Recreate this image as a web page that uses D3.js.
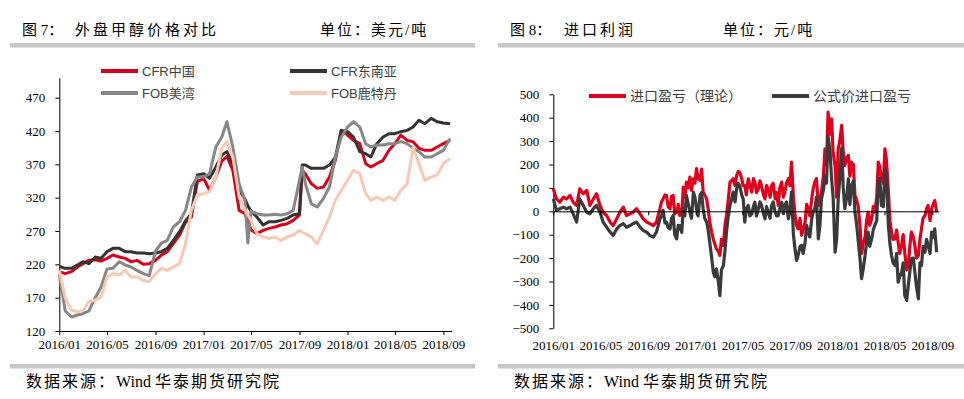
<!DOCTYPE html>
<html>
<head>
<meta charset="utf-8">
<script src="https://cdn.jsdelivr.net/npm/d3@7"></script>
<style>
  body { margin: 0; background: #fff; }
  svg text { font-family: "Liberation Serif", "Noto Sans CJK SC", serif; fill: #000; }
  .legend text { font-family: "Liberation Sans", "Noto Sans CJK SC", sans-serif; fill: #404040; }
  .axis path, .axis line { stroke: #000; }
</style>
</head>
<body>
<svg id="chart" width="964" height="399"></svg>
<script>
const parseDate = d3.timeParse("%Y-%m-%d");

// 图7 外盘甲醇价格 (美元/吨), semi-monthly readings
const priceDates = [
  "2016-01-01","2016-01-16","2016-02-01","2016-02-16","2016-03-01","2016-03-16","2016-04-01","2016-04-16",
  "2016-05-01","2016-05-16","2016-06-01","2016-06-16","2016-07-01","2016-07-16","2016-08-01","2016-08-16",
  "2016-09-01","2016-09-16","2016-10-01","2016-10-16","2016-11-01","2016-11-16","2016-12-01","2016-12-16",
  "2017-01-01","2017-01-16","2017-02-01","2017-02-16","2017-03-01","2017-03-16","2017-04-01","2017-04-16",
  "2017-04-23","2017-05-01","2017-05-16","2017-06-01","2017-06-16","2017-07-01","2017-07-16","2017-08-01",
  "2017-08-16","2017-09-01","2017-09-08","2017-09-16","2017-10-01","2017-10-16","2017-11-01","2017-11-16",
  "2017-12-01","2017-12-16","2018-01-01","2018-01-16","2018-02-01","2018-02-16","2018-03-01","2018-03-16",
  "2018-04-01","2018-04-16","2018-05-01","2018-05-16","2018-06-01","2018-06-16","2018-07-01","2018-07-16",
  "2018-08-01","2018-08-16","2018-09-01","2018-09-18"
];
const cfrChina = [
  209,206,209,216,221,226,227,225, 229,234,231,229,224,226,220,221,
  226,234,239,251,264,283,291,344, 349,331,351,375,382,361,301,296,
  285,272,266,271,274,276,279,281, 286,294,361,356,341,334,336,351,
  376,421,414,406,401,371,366,371, 376,391,401,414,406,404,394,391,
  391,396,401,406
];
const cfrSEA = [
  217,214,214,219,224,221,231,229, 239,244,244,239,239,237,237,236,
  237,239,244,256,269,285,296,354, 356,349,366,384,389,371,331,318,
  308,300,291,279,284,284,286,289, 294,296,369,369,364,364,364,369,
  381,421,419,411,389,386,381,401, 411,416,416,419,421,426,436,431,
  439,434,432,431
];
const fobUSG = [
  205,150,141,144,146,150,170,186, 213,214,224,219,216,211,206,203,
  240,252,256,276,284,301,336,351, 351,356,396,411,434,396,341,315,
  252,300,296,294,294,295,294,296, 301,346,366,341,311,306,319,336,
  381,411,426,434,426,401,396,399, 399,401,401,404,401,394,389,381,
  381,386,391,409
];
const fobRotterdam = [
  211,170,151,149,151,164,166,171, 201,206,204,211,201,201,196,194,
  206,214,211,216,221,251,301,324, 326,329,351,394,404,381,321,301,
  294,286,266,261,259,261,256,261, 264,271,268,266,261,251,271,291,
  316,331,346,361,356,326,316,321, 316,321,316,331,341,395,371,346,
  351,354,371,379
];
const priceTicks = [120, 170, 220, 270, 320, 370, 420, 470];

// 图8 进口利润 (元/吨), main readings
const profitDates = [
  "2016-01-01","2016-01-09","2016-01-18","2016-01-27","2016-02-04","2016-02-13","2016-02-21","2016-03-01",
  "2016-03-09","2016-03-18","2016-03-27","2016-04-04","2016-04-13","2016-04-21","2016-04-30","2016-05-08",
  "2016-05-17","2016-05-26","2016-06-03","2016-06-12","2016-06-20","2016-06-29","2016-07-07","2016-07-16",
  "2016-07-24","2016-08-02","2016-08-11","2016-08-19","2016-08-28","2016-09-05","2016-09-14","2016-09-22",
  "2016-10-01","2016-10-09","2016-10-18","2016-10-27","2016-11-04","2016-11-13","2016-11-21","2016-11-30",
  "2016-12-08","2016-12-17","2016-12-26","2017-01-03","2017-01-12","2017-01-20","2017-01-29","2017-02-06",
  "2017-02-15","2017-02-23","2017-03-04","2017-03-13","2017-03-21","2017-03-30","2017-04-07","2017-04-16",
  "2017-04-24","2017-05-03",
  "2017-05-07","2017-05-16","2017-05-25","2017-06-02","2017-06-11","2017-06-19","2017-06-28","2017-07-06",
  "2017-07-15","2017-07-24","2017-08-01","2017-08-10","2017-08-18","2017-08-27","2017-09-04","2017-09-13",
  "2017-09-21","2017-09-30","2017-10-09","2017-10-17","2017-10-26","2017-11-03","2017-11-12","2017-11-20",
  "2017-11-29","2017-12-07","2017-12-16","2017-12-25","2018-01-02","2018-01-11","2018-01-19","2018-01-28",
  "2018-02-05","2018-02-14","2018-02-22","2018-03-03","2018-03-12","2018-03-20","2018-03-29","2018-04-06",
  "2018-04-15","2018-04-23","2018-05-02","2018-05-11","2018-05-19","2018-05-28","2018-06-05","2018-06-14",
  "2018-06-22","2018-07-01","2018-07-09","2018-07-18","2018-07-27","2018-08-04","2018-08-13","2018-08-21",
  "2018-08-30","2018-09-07","2018-09-12"
];
const profitTheory = [
  96,53,39,60,53,68,39,25, 96,75,89,25,53,75,25,-4,
  -18,-46,-61,-32,-4,18,-18,-11, -4,11,-11,-32,-46,-53,-61,-46,
  11,53,68,11,68,-4,-18,103, 125,146,139,182,132,82,53,-46,
  -118,-160,-189,-146,-18,125,139,153, 167,110,
  110,139,82,125,96,110,53,96, 110,53,25,125,82,139,210,-18,
  -75,-103,-46,11,53,125,25,82, 267,424,395,196,267,367,196,239,
  210,68,25,-180,-110,-4,-32,-4, 210,139,267,82,-89,-118,-132,-146,
  -175,-232,-89,-146,-189,-75,-18,25, 11,46,-4
];
const profitFormula = [
  53,4,11,18,11,18,-11,-46, 53,25,-4,-11,11,25,-4,-46,
  -68,-89,-103,-75,-61,-53,-68,-61, -53,-46,-68,-82,-89,-103,-110,-89,
  -32,4,-46,-75,-18,-118,-61,11, 68,-4,82,11,68,11,-46,-132,
  -260,-246,-360,-232,-89,25,82,96, 110,53,
  -46,25,-11,39,11,25,-32,-4, 25,-4,-18,39,25,-32,82,-160,
  -189,-146,-132,-89,-32,11,-118,53, 153,320,139,-175,53,270,11,139,
  110,-4,-118,-288,-189,-89,-118,-61, 125,25,180,-61,-189,-232,-303,-260,
  -360,-317,-203,-260,-374,-232,-175,-146, -89,-75,-175
];

// 图8 extra readings between the main ones (the noisy stretch from 2016/10 on)
const profitExtraDates = [
  "2016-10-05","2016-10-14","2016-10-22","2016-10-31","2016-11-08","2016-11-17","2016-11-26","2016-12-04",
  "2016-12-13","2016-12-21","2016-12-30","2017-01-07","2017-01-16","2017-01-24","2017-02-02","2017-02-11",
  "2017-02-19","2017-02-28","2017-03-08","2017-03-17","2017-03-25","2017-04-03","2017-04-12","2017-04-20",
  "2017-04-29",
  "2017-05-11","2017-05-20","2017-05-29","2017-06-06","2017-06-15","2017-06-24","2017-07-02","2017-07-11",
  "2017-07-19","2017-07-28","2017-08-05","2017-08-14","2017-08-22","2017-08-31","2017-09-09","2017-09-17",
  "2017-09-26","2017-10-04","2017-10-13","2017-10-21","2017-10-30","2017-11-07","2017-11-16","2017-11-25",
  "2017-12-03","2017-12-12","2017-12-20","2017-12-29","2018-01-06","2018-01-15","2018-01-24","2018-02-01",
  "2018-02-10","2018-02-18","2018-02-27","2018-03-07","2018-03-16","2018-03-24","2018-04-02","2018-04-11",
  "2018-04-19","2018-04-28","2018-05-06","2018-05-15","2018-05-23","2018-06-01","2018-06-09","2018-06-18",
  "2018-06-27","2018-07-05","2018-07-14","2018-07-22","2018-07-31","2018-08-08","2018-08-17","2018-08-26",
  "2018-09-03"
];
const profitExtraTheory = [
  40,70,20,65,-10,30,-15,60, 100,90,120,140,180,70,10,-90,
  -140,-170,-120,-60,40,130,110,170, 140,
  70,110,140,80,130,70,110,60, 120,80,100,60,120,110,60,-60,
  -30,-80,30,-20,100,140,50,150, 200,330,250,60,300,250,230,150,
  200,50,-60,-140,-40,-60,20,60, 190,120,220,-40,-120,-80,-180,-100,
  -250,-150,-110,-200,-120,-30,10,-40, 30
];
const profitExtraFormula = [
  -20,-50,-70,-30,-100,-60,-90,-20, 30,-30,60,-20,80,-30,-80,-200,
  -280,-300,-250,-170,-30,50,40,120, 70,
  10,-20,20,-20,40,-10,20,-30, 40,-20,10,-10,40,10,-100,-210,
  -150,-180,-60,-110,0,60,-60,90, 120,260,60,-120,140,100,60,30,
  130,-50,-200,-250,-130,-150,-80,-40, 140,20,150,-140,-220,-180,-280,-220,
  -380,-260,-200,-320,-220,-150,-120,-180, -110
];
const profitTicks = [-500, -400, -300, -200, -100, 0, 100, 200, 300, 400, 500];

const monthTicks = ["2016-01-01","2016-05-01","2016-09-01","2017-01-01","2017-05-01",
                    "2017-09-01","2018-01-01","2018-05-01","2018-09-01"].map(parseDate);

const svg = d3.select("#chart");
const fmt = d3.timeFormat("%Y/%m");

// header / footer bars and titles for both panels
function drawFrame(x0, x1, num, title, unit, unitX, titleX) {
  svg.append("rect").attr("x", x0).attr("y", 43).attr("width", x1 - x0).attr("height", 4.5).attr("fill", "#c6c6c6");
  svg.append("rect").attr("x", x0).attr("y", 364).attr("width", x1 - x0).attr("height", 4.5).attr("fill", "#c6c6c6");
  svg.append("text").attr("x", x0 + 12).attr("y", 35).attr("font-size", 15).text(num);
  svg.append("text").attr("x", titleX).attr("y", 35).attr("font-size", 15).attr("letter-spacing", 3).text(title);
  svg.append("text").attr("x", unitX).attr("y", 35).attr("font-size", 15).attr("letter-spacing", 2).text(unit);
  const src = svg.append("text").attr("x", x0 + 16).attr("y", 387).attr("font-size", 16);
  src.append("tspan").attr("letter-spacing", 2).text("数据来源：");
  src.append("tspan").text("Wind ");
  src.append("tspan").attr("letter-spacing", 2).text("华泰期货研究院");
}
drawFrame(10, 475, "图 7：", "外盘甲醇价格对比", "单位：美元/吨", 320, 75);
drawFrame(498, 964, "图 8：", "进口利润", "单位：元/吨", 723, 564);

function drawSeries(g, x, y, pts, color, width) {
  g.append("path")
    .datum(pts)
    .attr("fill", "none")
    .attr("stroke", color)
    .attr("stroke-width", width)
    .attr("stroke-linejoin", "round")
    .attr("d", d3.line().x(d => x(d.date)).y(d => y(d.v)));
}
const toPoints = (dates, values) => dates.map((d, i) => ({ date: parseDate(d), v: values[i] }));

function legendItem(g, x, y, color, label, fontSize) {
  const it = g.append("g").attr("class", "legend");
  it.append("line").attr("x1", x).attr("x2", x + 37).attr("y1", y).attr("y2", y)
    .attr("stroke", color).attr("stroke-width", 4);
  it.append("text").attr("x", x + 41).attr("y", y).attr("dy", "0.35em")
    .attr("font-size", fontSize).text(label);
}

// ---------- 图7 ----------
const xL = d3.scaleTime().domain([parseDate("2016-01-01"), parseDate("2018-09-22")]).range([59.3, 451.7]);
const yL = d3.scaleLinear().domain([120, 500]).range([331, 77.7]);
const gL = svg.append("g");

gL.append("g").attr("class", "axis").attr("transform", "translate(59.3,0)")
  .call(d3.axisLeft(yL).tickValues(priceTicks).tickSizeInner(4).tickSizeOuter(0).tickPadding(10))
  .call(a => a.selectAll("text").attr("font-size", 13).attr("font-family", "Liberation Serif"));
gL.append("g").attr("class", "axis").attr("transform", "translate(0,331)")
  .call(d3.axisBottom(xL).tickValues(monthTicks).tickFormat(fmt).tickSizeInner(4).tickSizeOuter(0).tickPadding(5))
  .call(a => a.selectAll("text").attr("font-size", 13).attr("font-family", "Liberation Serif"));

drawSeries(gL, xL, yL, toPoints(priceDates, cfrChina), "#d9001b", 3);
drawSeries(gL, xL, yL, toPoints(priceDates, cfrSEA), "#333333", 3);
drawSeries(gL, xL, yL, toPoints(priceDates, fobUSG), "#878787", 3);
drawSeries(gL, xL, yL, toPoints(priceDates, fobRotterdam), "#f8c9b3", 3);

legendItem(gL, 101, 71, "#d9001b", "CFR中国", 13);
legendItem(gL, 290, 71, "#333333", "CFR东南亚", 13);
legendItem(gL, 101, 93, "#878787", "FOB美湾", 13);
legendItem(gL, 290, 93, "#f8c9b3", "FOB鹿特丹", 13);

// ---------- 图8 ----------
const xR = d3.scaleTime().domain([parseDate("2016-01-01"), parseDate("2018-09-18")]).range([553.3, 939]);
const yR = d3.scaleLinear().domain([-500, 500]).range([328.3, 94.3]);
const gR = svg.append("g");

gR.append("g").attr("class", "axis").attr("transform", "translate(553.3,0)")
  .call(d3.axisLeft(yR).tickValues(profitTicks).tickSizeInner(4).tickSizeOuter(0).tickPadding(10))
  .call(a => a.selectAll("text").attr("font-size", 13).attr("font-family", "Liberation Serif"));

const byDate = (a, b) => a.date - b.date;
const theoryPts = toPoints(profitDates, profitTheory).concat(toPoints(profitExtraDates, profitExtraTheory)).sort(byDate);
const formulaPts = toPoints(profitDates, profitFormula).concat(toPoints(profitExtraDates, profitExtraFormula)).sort(byDate);

drawSeries(gR, xR, yR, theoryPts, "#e0001b", 3.2);
drawSeries(gR, xR, yR, formulaPts, "#3a3a3a", 3.2);

// zero line with ticks, labels placed low
gR.append("g").attr("class", "axis").attr("transform", `translate(0,${yR(0)})`)
  .call(d3.axisBottom(xR).tickValues(monthTicks).tickFormat("").tickSizeInner(4).tickSizeOuter(0));
gR.append("g").attr("transform", `translate(0,${yR(-500)})`)
  .call(d3.axisBottom(xR).tickValues(monthTicks).tickFormat(fmt).tickSize(0).tickPadding(12))
  .call(a => a.select(".domain").remove())
  .call(a => a.selectAll("text").attr("font-size", 13).attr("font-family", "Liberation Serif"));

legendItem(gR, 589, 96, "#e0001b", "进口盈亏（理论）", 14);
legendItem(gR, 772, 96, "#3a3a3a", "公式价进口盈亏", 14);
</script>
</body>
</html>
